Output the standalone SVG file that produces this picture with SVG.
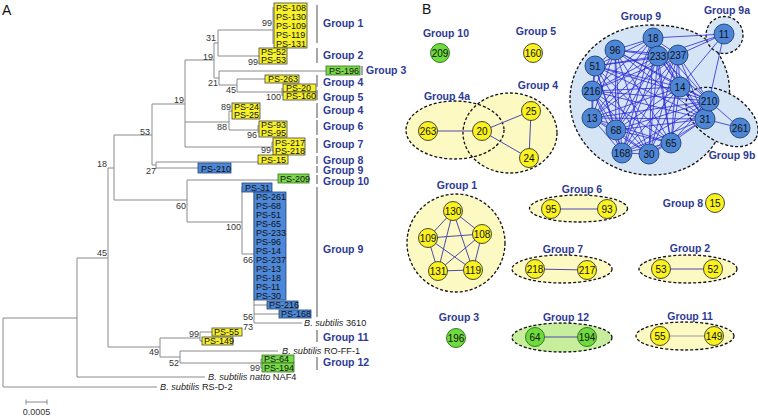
<svg xmlns="http://www.w3.org/2000/svg" width="758" height="416" viewBox="0 0 758 416">
<style>
.t{stroke:#8a8a8a;stroke-width:1;fill:none}
.bar{stroke:#8a8a8a;stroke-width:1.5}
.bs{font-family:"Liberation Sans",Arial,sans-serif;font-size:9px;fill:#333}
.ps{font-family:"Liberation Sans",Arial,sans-serif;font-size:9px;fill:#111}
.sp{font-family:"Liberation Sans",Arial,sans-serif;font-size:9.2px;fill:#222}
.gl{font-family:"Liberation Sans",Arial,sans-serif;font-size:10.5px;font-weight:bold;fill:#2e3a94}
.gc{font-family:"Liberation Sans",Arial,sans-serif;font-size:10.5px;font-weight:bold;fill:#2e3a94;text-anchor:middle}
.pl{font-family:"Liberation Sans",Arial,sans-serif;font-size:14px;fill:#111}
.by{fill:#f7f12a;stroke:#444;stroke-width:0.8}
.bb{fill:#4d88d8;stroke:#24477e;stroke-width:0.8}
.bg{fill:#79d94a;stroke:#3a7420;stroke-width:0.8}
.ed{fill:none;stroke:#111;stroke-width:1.3;stroke-dasharray:3 2}
.ny{fill:#f9f21e;stroke:#333;stroke-width:0.9}
.nb{fill:#4d86d6;stroke:#1e3f70;stroke-width:0.9}
.ng{fill:#6edb3d;stroke:#2f6b16;stroke-width:0.9}
.nt{font-family:"Liberation Sans",Arial,sans-serif;font-size:10px;fill:#111;text-anchor:middle}
.e{stroke:#4a4ab0;stroke-width:1;fill:none}
.e9{stroke:#2a2ad6;stroke-width:0.8;fill:none}
</style>

<!-- Panel A -->
<text class="pl" x="2" y="15">A</text>

<g id="tree-lines">
<path class="t" d="M3 318V387M3 387H157M3 318H77M77 258V377M77 377H205M77 258H108M108 168V347M108 347H160M160 338V357M160 338H200M200 332V341M200 332H212M200 341H202M160 357H180M180 351V363M180 351H278M180 363H261M261 359V368M261 359H262M261 368H262"/>
<path class="t" d="M108 168H114M114 135V200M114 200H187M187 180V222M187 180H278M187 222H242M242 187V254M242 254H254M254 192V323M254 305H267M254 314H279M254 323H302"/>
<path class="t" d="M114 135H152M152 104V165M152 165H156M156 162V169M156 162H258M156 168H198M152 104H185M185 60V147M185 60H214M214 43V78M214 43H218M218 30V56M218 30H273M273 7V44M218 56H259M214 78H219M219 71V85M219 71H326M219 85H237M237 79V92M237 79H265M237 92H282M282 88V96M185 122H229M229 111V130M229 111H232M229 130H258M258 125V133M185 147H272M272 142V151M272 142H273M272 151H273"/>
</g>

<g id="bootstrap">
<text class="bs" x="107" y="256" text-anchor="end">45</text>
<text class="bs" x="107" y="167" text-anchor="end">18</text>
<text class="bs" x="159" y="355" text-anchor="end">49</text>
<text class="bs" x="199" y="337" text-anchor="end">99</text>
<text class="bs" x="179" y="366" text-anchor="end">52</text>
<text class="bs" x="260" y="371" text-anchor="end">99</text>
<text class="bs" x="186" y="209" text-anchor="end">60</text>
<text class="bs" x="241" y="230" text-anchor="end">100</text>
<text class="bs" x="243" y="263">66</text>
<text class="bs" x="243" y="320">56</text>
<text class="bs" x="243" y="330">73</text>
<text class="bs" x="150" y="135" text-anchor="end">53</text>
<text class="bs" x="156" y="174" text-anchor="end">27</text>
<text class="bs" x="184" y="103" text-anchor="end">19</text>
<text class="bs" x="213" y="60" text-anchor="end">19</text>
<text class="bs" x="216" y="41" text-anchor="end">31</text>
<text class="bs" x="272" y="26" text-anchor="end">99</text>
<text class="bs" x="258" y="65" text-anchor="end">99</text>
<text class="bs" x="218" y="86" text-anchor="end">21</text>
<text class="bs" x="236" y="93" text-anchor="end">45</text>
<text class="bs" x="281" y="100" text-anchor="end">100</text>
<text class="bs" x="231" y="110" text-anchor="end">89</text>
<text class="bs" x="227" y="130" text-anchor="end">88</text>
<text class="bs" x="257" y="138" text-anchor="end">96</text>
<text class="bs" x="271" y="152.5" text-anchor="end">99</text>
</g>

<g id="strains">
<text class="sp" x="160" y="390"><tspan font-style="italic">B. subtilis</tspan> RS-D-2</text>
<text class="sp" x="208" y="380"><tspan font-style="italic">B. subtilis natto</tspan> NAF4</text>
<text class="sp" x="282" y="354"><tspan font-style="italic">B. subtilis</tspan> RO-FF-1</text>
<text class="sp" x="304" y="326"><tspan font-style="italic">B. subtilis</tspan> 3610</text>
</g>

<g id="a-group1"><rect class="by" x="274" y="3" width="33" height="45"/>
<text class="ps" x="276" y="11">PS-108</text><text class="ps" x="276" y="20">PS-130</text><text class="ps" x="276" y="29">PS-109</text><text class="ps" x="276" y="38">PS-119</text><text class="ps" x="276" y="47">PS-131</text></g>
<g id="a-group2"><rect class="by" x="259" y="48" width="28" height="16"/>
<text class="ps" x="261" y="55">PS-52</text><text class="ps" x="261" y="63">PS-53</text></g>
<g id="a-group3"><rect class="bg" x="326" y="66" width="34" height="9"/><text class="ps" x="329" y="73.5">PS-196</text></g>
<g id="a-ps263"><rect class="by" x="265" y="75" width="34" height="8"/><text class="ps" x="268" y="82">PS-263</text></g>
<g id="a-ps20"><rect class="by" x="283" y="84" width="33" height="8"/><text class="ps" x="286" y="91">PS-20</text>
<rect class="by" x="283" y="92" width="33" height="8"/><text class="ps" x="286" y="99">PS-160</text></g>
<g id="a-ps24"><rect class="by" x="232" y="103" width="28" height="16"/>
<text class="ps" x="234" y="110">PS-24</text><text class="ps" x="234" y="118">PS-25</text></g>
<g id="a-ps93"><rect class="by" x="259" y="121" width="28" height="16"/>
<text class="ps" x="261" y="128">PS-93</text><text class="ps" x="261" y="136">PS-95</text></g>
<g id="a-ps217"><rect class="by" x="273" y="138" width="32" height="17"/>
<text class="ps" x="275" y="145.5">PS-217</text><text class="ps" x="275" y="154">PS-218</text></g>
<g id="a-ps15"><rect class="by" x="258" y="155" width="30" height="9"/><text class="ps" x="261" y="162.5">PS-15</text></g>
<g id="a-ps210"><rect class="bb" x="198" y="163" width="33" height="10"/><text class="ps" x="201" y="171.5">PS-210</text></g>
<g id="a-ps209"><rect class="bg" x="278" y="174" width="31" height="9"/><text class="ps" x="280" y="181.5">PS-209</text></g>
<g id="a-ps31"><rect class="bb" x="242" y="183" width="30" height="9"/><text class="ps" x="245" y="190.5">PS-31</text></g>
<g id="a-group9"><rect class="bb" x="254" y="192" width="32" height="108"/>
<text class="ps" x="256" y="200">PS-261</text><text class="ps" x="256" y="209">PS-68</text><text class="ps" x="256" y="218">PS-51</text><text class="ps" x="256" y="227">PS-65</text><text class="ps" x="256" y="236">PS-233</text><text class="ps" x="256" y="245">PS-96</text><text class="ps" x="256" y="254">PS-14</text><text class="ps" x="256" y="263">PS-237</text><text class="ps" x="256" y="272">PS-13</text><text class="ps" x="256" y="281">PS-18</text><text class="ps" x="256" y="290">PS-11</text><text class="ps" x="256" y="299">PS-30</text></g>
<g id="a-ps216"><rect class="bb" x="267" y="301" width="31" height="8"/><text class="ps" x="269" y="308">PS-216</text></g>
<g id="a-ps168"><rect class="bb" x="279" y="310" width="32" height="8"/><text class="ps" x="281" y="317">PS-168</text></g>
<g id="a-ps55"><rect class="by" x="212" y="328" width="30" height="8"/><text class="ps" x="214" y="335">PS-55</text>
<rect class="by" x="202" y="337" width="31" height="8"/><text class="ps" x="204" y="344">PS-149</text></g>
<g id="a-ps64"><rect class="bg" x="262" y="355" width="32" height="8"/><text class="ps" x="264" y="362">PS-64</text>
<rect class="bg" x="262" y="363" width="32" height="9"/><text class="ps" x="264" y="371">PS-194</text></g>

<g id="a-bars">
<path class="bar" d="M317 5V43M317 48V63M362 66V75M317 75V87M317 90V100M317 103V118M317 120V135M317 138V153M317 156V164M317 166V173M317 175V184M317 187V317M317 330V342M317 357V370"/>
<text class="gl" x="323" y="27">Group 1</text>
<text class="gl" x="323" y="59">Group 2</text>
<text class="gl" x="366" y="74">Group 3</text>
<text class="gl" x="323" y="86">Group 4</text>
<text class="gl" x="323" y="101">Group 5</text>
<text class="gl" x="323" y="114">Group 4</text>
<text class="gl" x="323" y="130">Group 6</text>
<text class="gl" x="323" y="148">Group 7</text>
<text class="gl" x="323" y="163.5">Group 8</text>
<text class="gl" x="323" y="174">Group 9</text>
<text class="gl" x="323" y="185">Group 10</text>
<text class="gl" x="323" y="253">Group 9</text>
<text class="gl" x="323" y="341">Group 11</text>
<text class="gl" x="323" y="366">Group 12</text>
</g>

<g id="scale">
<path class="t" d="M26 402H47M26 399.5V404.5M47 399.5V404.5"/>
<text class="bs" x="36.5" y="415" text-anchor="middle">0.0005</text>
</g>

<!-- Panel B -->
<text class="pl" x="422" y="14">B</text>

<g id="hulls">
<ellipse cx="455" cy="130" rx="49" ry="29" fill="#fdf9c2"/>
<ellipse cx="510" cy="133" rx="47" ry="40" fill="#fdf9c2"/>
<ellipse class="ed" cx="455" cy="130" rx="49" ry="29"/>
<ellipse class="ed" cx="510" cy="133" rx="47" ry="40"/>
<path class="ed" style="fill:#d6e5f5" d="M651 25C695 25 712 40 722 60C730 76 731 92 728 108C724 135 705 175 651 175C606 175 570 142 570 100C570 58 606 25 651 25Z"/>
<ellipse class="ed" cx="722" cy="117" rx="40" ry="24" transform="rotate(33 722 117)" style="fill:#d6e5f5"/>
<circle class="ed" cx="724.5" cy="35" r="18.5" style="fill:#d6e5f5"/>
<circle class="ed" cx="456" cy="243" r="49" style="fill:#fdf9c2"/>
<ellipse class="ed" cx="578.5" cy="208.5" rx="49" ry="13.5" style="fill:#fdf9c2"/>
<ellipse class="ed" cx="562" cy="269" rx="50" ry="14" style="fill:#fdf9c2"/>
<ellipse class="ed" cx="688" cy="269" rx="49" ry="14" style="fill:#fdf9c2"/>
<ellipse class="ed" cx="562" cy="337.5" rx="50" ry="14.5" style="fill:#c6ee9c"/>
<ellipse class="ed" cx="685" cy="336" rx="49" ry="14" style="fill:#fdf9c2"/>
</g>

<g id="connectors">
<path class="e" d="M428 131L482 131M482 131L531 111M482 131L529 158M531 111L529 158"/>
<path class="e" d="M453 211L428 238M453 211L482 234M453 211L438 271M453 211L473 270M428 238L482 234M428 238L438 271M428 238L473 270M482 234L438 271M482 234L473 270M438 271L473 270"/>
<path class="e" d="M551 209L607 209M535 269L587 270M661 269L713 269M535 337L587 337"/>
<path d="M660 336L714 336" stroke="#9a9aa8" stroke-width="1.2" fill="none"/>
<path class="e9" d="M653 38L615 50M653 38L658 56M653 38L678 55M653 38L595 66M653 38L680 87M653 38L592 91M653 38L592 118M653 38L616 130M653 38L622 153M653 38L649 154M653 38L671 143M653 38L705 119M653 38L709 101"/>
<path class="e9" d="M615 50L658 56M615 50L678 55M615 50L595 66M615 50L680 87M615 50L592 91M615 50L592 118M615 50L616 130M615 50L622 153M615 50L649 154M615 50L671 143M615 50L705 119M615 50L709 101"/>
<path class="e9" d="M658 56L678 55M658 56L595 66M658 56L680 87M658 56L592 91M658 56L592 118M658 56L616 130M658 56L622 153M658 56L649 154M658 56L671 143M658 56L705 119M658 56L709 101"/>
<path class="e9" d="M678 55L595 66M678 55L680 87M678 55L592 91M678 55L592 118M678 55L616 130M678 55L622 153M678 55L649 154M678 55L671 143M678 55L705 119M678 55L709 101"/>
<path class="e9" d="M595 66L680 87M595 66L592 91M595 66L592 118M595 66L616 130M595 66L622 153M595 66L649 154M595 66L671 143M595 66L705 119M595 66L709 101"/>
<path class="e9" d="M680 87L592 91M680 87L592 118M680 87L616 130M680 87L622 153M680 87L649 154M680 87L671 143M680 87L705 119M680 87L709 101"/>
<path class="e9" d="M592 91L592 118M592 91L616 130M592 91L622 153M592 91L649 154M592 91L671 143M592 91L705 119M592 91L709 101"/>
<path class="e9" d="M592 118L616 130M592 118L622 153M592 118L649 154M592 118L671 143M592 118L705 119M592 118L709 101"/>
<path class="e9" d="M616 130L622 153M616 130L649 154M616 130L671 143M616 130L705 119M616 130L709 101"/>
<path class="e9" d="M622 153L649 154M622 153L671 143M622 153L705 119M622 153L709 101M649 154L671 143M649 154L705 119M649 154L709 101M671 143L705 119M671 143L709 101M705 119L709 101"/>
<path class="e9" d="M724 34L653 38M724 34L658 56M724 34L678 55M724 34L680 87M724 34L709 101M740 128L709 101M740 128L705 119"/>
</g>

<g id="labels-b">
<text class="gc" x="446" y="37">Group 10</text>
<text class="gc" x="536" y="35">Group 5</text>
<text class="gc" x="447" y="100">Group 4a</text>
<text class="gc" x="538" y="89">Group 4</text>
<text class="gc" x="641" y="20">Group 9</text>
<text class="gc" x="727" y="14">Group 9a</text>
<text class="gc" x="732" y="159">Group 9b</text>
<text class="gc" x="457" y="189">Group 1</text>
<text class="gc" x="582" y="193">Group 6</text>
<text class="gc" x="683" y="207">Group 8</text>
<text class="gc" x="563" y="253">Group 7</text>
<text class="gc" x="690" y="252">Group 2</text>
<text class="gc" x="459" y="321">Group 3</text>
<text class="gc" x="566" y="321">Group 12</text>
<text class="gc" x="690" y="320">Group 11</text>
</g>

<g id="n209"><circle class="ng" cx="440" cy="53" r="9.5"/><text class="nt" x="440" y="56.5">209</text></g>
<g id="n160"><circle class="ny" cx="533" cy="53" r="9.5"/><text class="nt" x="533" y="56.5">160</text></g>
<g id="n263"><circle class="ny" cx="428" cy="131" r="9.5"/><text class="nt" x="428" y="134.5">263</text></g>
<g id="n20"><circle class="ny" cx="482" cy="131" r="9.5"/><text class="nt" x="482" y="134.5">20</text></g>
<g id="n25"><circle class="ny" cx="531" cy="111" r="9.5"/><text class="nt" x="531" y="114.5">25</text></g>
<g id="n24"><circle class="ny" cx="529" cy="158" r="9.5"/><text class="nt" x="529" y="161.5">24</text></g>
<g id="n130"><circle class="ny" cx="453" cy="211" r="9.5"/><text class="nt" x="453" y="214.5">130</text></g>
<g id="n109"><circle class="ny" cx="428" cy="238" r="9.5"/><text class="nt" x="428" y="241.5">109</text></g>
<g id="n108"><circle class="ny" cx="482" cy="234" r="9.5"/><text class="nt" x="482" y="237.5">108</text></g>
<g id="n131"><circle class="ny" cx="438" cy="271" r="9.5"/><text class="nt" x="438" y="274.5">131</text></g>
<g id="n119"><circle class="ny" cx="473" cy="270" r="9.5"/><text class="nt" x="473" y="273.5">119</text></g>
<g id="n95"><circle class="ny" cx="551" cy="209" r="9.5"/><text class="nt" x="551" y="212.5">95</text></g>
<g id="n93"><circle class="ny" cx="607" cy="209" r="9.5"/><text class="nt" x="607" y="212.5">93</text></g>
<g id="n15"><circle class="ny" cx="715" cy="203" r="9.5"/><text class="nt" x="715" y="206.5">15</text></g>
<g id="n218"><circle class="ny" cx="535" cy="269" r="9.5"/><text class="nt" x="535" y="272.5">218</text></g>
<g id="n217"><circle class="ny" cx="587" cy="270" r="9.5"/><text class="nt" x="587" y="273.5">217</text></g>
<g id="n53"><circle class="ny" cx="661" cy="269" r="9.5"/><text class="nt" x="661" y="272.5">53</text></g>
<g id="n52"><circle class="ny" cx="713" cy="269" r="9.5"/><text class="nt" x="713" y="272.5">52</text></g>
<g id="n196"><circle class="ng" cx="456" cy="338" r="9.5"/><text class="nt" x="456" y="341.5">196</text></g>
<g id="n64"><circle class="ng" cx="535" cy="337" r="9.5"/><text class="nt" x="535" y="340.5">64</text></g>
<g id="n194"><circle class="ng" cx="587" cy="337" r="9.5"/><text class="nt" x="587" y="340.5">194</text></g>
<g id="n55"><circle class="ny" cx="660" cy="336" r="9.5"/><text class="nt" x="660" y="339.5">55</text></g>
<g id="n149"><circle class="ny" cx="714" cy="336" r="9.5"/><text class="nt" x="714" y="339.5">149</text></g>

<g id="n18"><circle class="nb" cx="653" cy="38" r="10"/><text class="nt" x="653" y="41.5">18</text></g>
<g id="n96"><circle class="nb" cx="615" cy="50" r="10"/><text class="nt" x="615" y="53.5">96</text></g>
<g id="n233"><circle class="nb" cx="658" cy="56" r="10"/><text class="nt" x="658" y="59.5">233</text></g>
<g id="n237"><circle class="nb" cx="678" cy="55" r="10"/><text class="nt" x="678" y="58.5">237</text></g>
<g id="n51"><circle class="nb" cx="595" cy="66" r="10"/><text class="nt" x="595" y="69.5">51</text></g>
<g id="n14"><circle class="nb" cx="680" cy="87" r="10"/><text class="nt" x="680" y="90.5">14</text></g>
<g id="n216"><circle class="nb" cx="592" cy="91" r="10"/><text class="nt" x="592" y="94.5">216</text></g>
<g id="n13"><circle class="nb" cx="592" cy="118" r="10"/><text class="nt" x="592" y="121.5">13</text></g>
<g id="n68"><circle class="nb" cx="616" cy="130" r="10"/><text class="nt" x="616" y="133.5">68</text></g>
<g id="n168"><circle class="nb" cx="622" cy="153" r="10"/><text class="nt" x="622" y="156.5">168</text></g>
<g id="n30"><circle class="nb" cx="649" cy="154" r="10"/><text class="nt" x="649" y="157.5">30</text></g>
<g id="n65"><circle class="nb" cx="671" cy="143" r="10"/><text class="nt" x="671" y="146.5">65</text></g>
<g id="n31"><circle class="nb" cx="705" cy="119" r="10"/><text class="nt" x="705" y="122.5">31</text></g>
<g id="n210"><circle class="nb" cx="709" cy="101" r="10"/><text class="nt" x="709" y="104.5">210</text></g>
<g id="n11"><circle class="nb" cx="724" cy="34" r="10"/><text class="nt" x="724" y="37.5">11</text></g>
<g id="n261"><circle class="nb" cx="740" cy="128" r="10"/><text class="nt" x="740" y="131.5">261</text></g>
</svg>
